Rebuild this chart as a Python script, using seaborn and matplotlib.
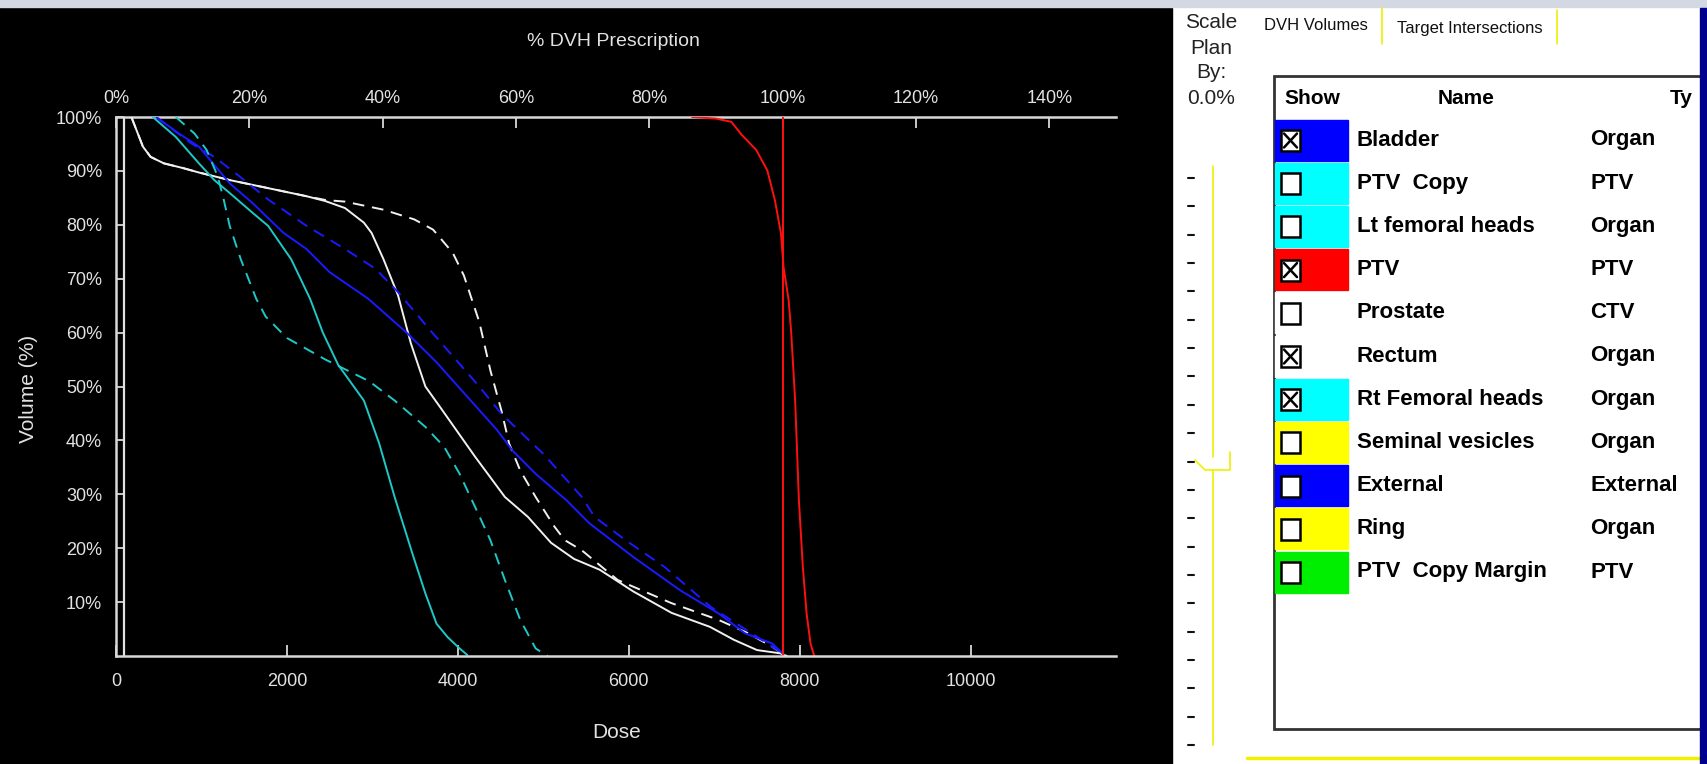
import numpy as np
import pandas as pd
import matplotlib
matplotlib.use("Agg")
import matplotlib.pyplot as plt
import seaborn as sns
from matplotlib.patches import Rectangle

# ========== 数据：DVH 曲线（剂量 cGy, 体积 %） ==========
PRESCRIPTION = 7800

rectum_dose = [180, 315, 405, 560, 790, 970, 1330, 1780, 2230, 2450, 2680, 2900, 2990, 3130,
               3300, 3450, 3620, 3800, 4200, 4550, 4820, 5090, 5360, 5660, 6050, 6500, 6950,
               7230, 7500, 7770, 7850]
rectum_vol = [100, 94.5, 92.6, 91.4, 90.5, 89.7, 88.3, 86.8, 85.3, 84.4, 83.1, 80.4, 78.5, 73.6,
              66.9, 58, 50, 46, 37, 29.5, 25.8, 21, 18, 16, 12, 8, 5.4, 3.0, 1.1, 0.5, 0]

rectum2_dose = [180, 315, 405, 560, 790, 970, 1330, 1780, 2230, 2450, 2680, 3130, 3490, 3710,
                3940, 4070, 4250, 4380, 4510, 4600, 4730, 4910, 5130, 5250, 5450, 5870, 6500,
                7050, 7400, 7680, 7810]
rectum2_vol = [100, 94.5, 92.6, 91.4, 90.5, 89.7, 88.3, 86.8, 85.3, 84.6, 84.3, 82.8, 81, 79.1,
               74.8, 70.6, 62, 53, 45.5, 39.4, 34.4, 29.5, 24, 21.5, 19.6, 14.1, 9.8, 6.7, 4.2,
               1.7, 0.3]

bladder_dose = [470, 740, 970, 1330, 1600, 1960, 2230, 2500, 2950, 3400, 3750, 4150, 4460, 4640,
                4910, 5270, 5540, 6050, 6600, 7050, 7360, 7680, 7810]
bladder_vol = [100, 96.9, 94.5, 87.7, 84, 78.5, 75.5, 71.2, 66.3, 60, 54.5, 47.4, 41.9, 38.1,
               33.8, 28.9, 24.6, 18.4, 12.2, 7.9, 4.2, 2.3, 0.3]

bladder2_dose = [470, 880, 1150, 1420, 1780, 2230, 2680, 3040, 3300, 3700, 4250, 4510, 5000,
                 5450, 5600, 5960, 6420, 6960, 7320, 7680, 7830]
bladder2_vol = [100, 95.1, 92.6, 89.3, 84.7, 79.8, 75.5, 71.8, 67.5, 60, 50, 44.9, 37.5, 29.5,
                25.8, 21.5, 16.5, 9.1, 5.4, 1.7, 0.2]

femoral_dose = [430, 700, 970, 1150, 1330, 1600, 1780, 2050, 2270, 2420, 2600, 2900, 3080, 3260,
                3480, 3620, 3750, 3880, 4020, 4110]
femoral_vol = [100, 96.3, 91.4, 88.3, 85.9, 82.2, 79.8, 73.6, 66.3, 60, 54, 47.4, 39.4, 29.5,
               18.4, 11.6, 6, 3.5, 1.4, 0.2]

femoral2_dose = [700, 920, 1060, 1190, 1260, 1330, 1460, 1640, 1750, 2000, 2450, 2960, 3260, 3620,
                 3840, 4020, 4200, 4380, 4550, 4730, 4910, 5050]
femoral2_vol = [100, 96.9, 93.9, 89, 84.7, 79.8, 73.6, 66.3, 63, 59, 55, 51, 47.4, 42.5, 38.8,
                33.8, 27.7, 21.5, 14.1, 6.7, 1.4, 0]

ptv_dose = [6740, 7020, 7200, 7320, 7490, 7620, 7710, 7780, 7810, 7870, 7900, 7946, 7990, 8036,
            8080, 8126, 8170]
ptv_vol = [100, 99.7, 99.1, 96.7, 93.9, 90.1, 84.5, 78.4, 72.2, 66, 60, 47.4, 28.9, 16.5, 7.9,
           2.3, 0]

x_ticks = [0, 2000, 4000, 6000, 8000, 10000]
pct_ticks = [0, 20, 40, 60, 80, 100, 120, 140]
y_ticks = [10, 20, 30, 40, 50, 60, 70, 80, 90, 100]

# 右侧结构列表
struct_names = ["Bladder", "PTV  Copy", "Lt femoral heads", "PTV", "Prostate", "Rectum",
                "Rt Femoral heads", "Seminal vesicles", "External", "Ring", "PTV  Copy Margin"]
struct_types = ["Organ", "PTV", "Organ", "PTV", "CTV", "Organ", "Organ", "Organ", "External",
                "Organ", "PTV"]
struct_colors = ["#0000ff", "#00ffff", "#00ffff", "#ff0000", "#ffffff", "#ffffff", "#00ffff",
                 "#ffff00", "#0000ff", "#ffff00", "#00ee00"]
struct_shown = [True, False, False, True, False, True, True, False, False, False, False]

# ========== 样式 ==========
sns.set_theme(style="dark")
plt.rcParams["font.family"] = ["Liberation Sans Narrow", "Liberation Sans", "DejaVu Sans"]
FG = "#e2e2e2"
W, H = 1707, 764

fig = plt.figure(figsize=(W / 100, H / 100), dpi=100)

# 背景层（像素坐标）
bg = fig.add_axes([0, 0, 1, 1], zorder=0)
bg.set_xlim(0, W)
bg.set_ylim(H, 0)
bg.axis("off")
bg.add_patch(Rectangle((0, 0), W, H, color="white"))
bg.add_patch(Rectangle((0, 8), 1172, H, color="black"))
bg.add_patch(Rectangle((0, 0), W, 7, color="#d3d8e2"))

# ========== 主图 ==========
ax = fig.add_axes([116 / W, 1 - 656 / H, 1000 / W, 539 / H], zorder=1)
ax.set_facecolor("black")

curves = [
    (rectum2_dose, rectum2_vol, "#f0f0f0", (0, (6, 4))),
    (rectum_dose, rectum_vol, "#f0f0f0", "-"),
    (bladder2_dose, bladder2_vol, "#1a1aff", (0, (6, 4))),
    (bladder_dose, bladder_vol, "#1a1aff", "-"),
    (femoral2_dose, femoral2_vol, "#1ec8c8", (0, (6, 4))),
    (femoral_dose, femoral_vol, "#1ec8c8", "-"),
    (ptv_dose, ptv_vol, "#ff1010", "-"),
]
for d, v, c, ls in curves:
    sns.lineplot(x=d, y=v, ax=ax, color=c, linestyle=ls, linewidth=1.4,
                 sort=False, estimator=None)

ax.axvline(PRESCRIPTION, color="#ff1010", linewidth=1.4)
ax.axvline(90, color=FG, linewidth=1.6)

ax.set_xlim(0, 11700)
ax.set_ylim(0, 100)
ax.grid(False)
for side in ["left", "bottom"]:
    ax.spines[side].set_color("#d8d8d8")
    ax.spines[side].set_linewidth(1.8)
    ax.spines[side].set_visible(True)
ax.spines["right"].set_visible(False)
ax.spines["top"].set_visible(False)

ax.set_xticks(x_ticks)
ax.set_xticklabels([str(t) for t in x_ticks])
ax.set_yticks(y_ticks)
ax.set_yticklabels([f"{t}%" for t in y_ticks])
ax.tick_params(axis="x", direction="in", length=8, width=1.3, color="#d8d8d8",
               labelcolor=FG, labelsize=13, pad=12, bottom=True)
ax.tick_params(axis="y", direction="in", length=6, width=1.3, color="#d8d8d8",
               labelcolor=FG, labelsize=13, pad=10, left=True)
ax.set_xlabel("")
ax.set_ylabel("")

sec = ax.secondary_xaxis("top", functions=(lambda d: d / PRESCRIPTION * 100,
                                            lambda p: p * PRESCRIPTION / 100))
sec.set_xticks(pct_ticks)
sec.set_xticklabels([f"{t}%" for t in pct_ticks])
sec.tick_params(direction="in", length=8, width=1.3, color="#d8d8d8",
                labelcolor=FG, labelsize=13, pad=7)
sec.spines["top"].set_color("#d8d8d8")
sec.spines["top"].set_linewidth(1.8)

fig.text(613 / W, 1 - 42 / H, "% DVH Prescription", color=FG, fontsize=14,
         ha="center", va="center")
fig.text(617 / W, 1 - 733 / H, "Dose", color=FG, fontsize=15, ha="center", va="center")
fig.text(28 / W, 1 - 389 / H, "Volume (%)", color=FG, fontsize=15, rotation=90,
         ha="center", va="center")

# ========== 右侧面板 ==========
for txt, yy in [("Scale", 22), ("Plan", 48), ("By:", 72), ("0.0%", 99)]:
    bg.text(1211, yy, txt, fontsize=15, color="#222222", ha="center", va="center")
bg.text(1316, 26, "DVH Volumes", fontsize=12, color="#111111", ha="center", va="center")
bg.text(1470, 29, "Target Intersections", fontsize=12, color="#111111", ha="center", va="center")
bg.plot([1382, 1382], [8, 44], color="#f0f000", lw=1.2)
bg.plot([1557, 1557], [10, 44], color="#f0f000", lw=1.2)

# 滑块刻度
for yy in np.linspace(178, 745, 21):
    bg.plot([1188, 1194], [yy, yy], color="#111111", lw=1.5)
bg.plot([1213, 1213], [166, 457], color="#f0f000", lw=1.2)
bg.plot([1213, 1213], [470, 745], color="#f0f000", lw=1.2)
bg.plot([1195, 1205, 1230, 1230], [460, 470, 470, 452], color="#f0f000", lw=1.2)
bg.plot([1247, W], [758, 758], color="#f0f000", lw=2.5)

# 表格
bg.add_patch(Rectangle((1274, 76), W, 729 - 76, facecolor="white", edgecolor="#333333", lw=2))
bg.text(1312, 99, "Show", fontsize=15, fontweight="bold", color="black", ha="center", va="center")
bg.text(1466, 99, "Name", fontsize=15, fontweight="bold", color="black", ha="center", va="center")
bg.text(1670, 99, "Ty", fontsize=15, fontweight="bold", color="black", ha="left", va="center")
for i, (nm, tp, col, shown) in enumerate(zip(struct_names, struct_types, struct_colors, struct_shown)):
    yc = 140 + i * 43.2
    bg.add_patch(Rectangle((1275, yc - 20.5), 73, 41, color=col))
    bg.add_patch(Rectangle((1281, yc - 10), 19, 21, facecolor="white", edgecolor="black", lw=1.8))
    if shown:
        bg.plot([1284, 1297], [yc - 6.5, yc + 7.5], color="black", lw=1.8)
        bg.plot([1284, 1297], [yc + 7.5, yc - 6.5], color="black", lw=1.8)
    bg.text(1357, yc, nm, fontsize=16, fontweight="bold", color="black", ha="left", va="center")
    bg.text(1590, yc, tp, fontsize=16, fontweight="bold", color="black", ha="left", va="center")

bg.add_patch(Rectangle((1700, 8), 8, H, color="#00008c", zorder=10))

fig.savefig("out.png", dpi=100, facecolor="black")
